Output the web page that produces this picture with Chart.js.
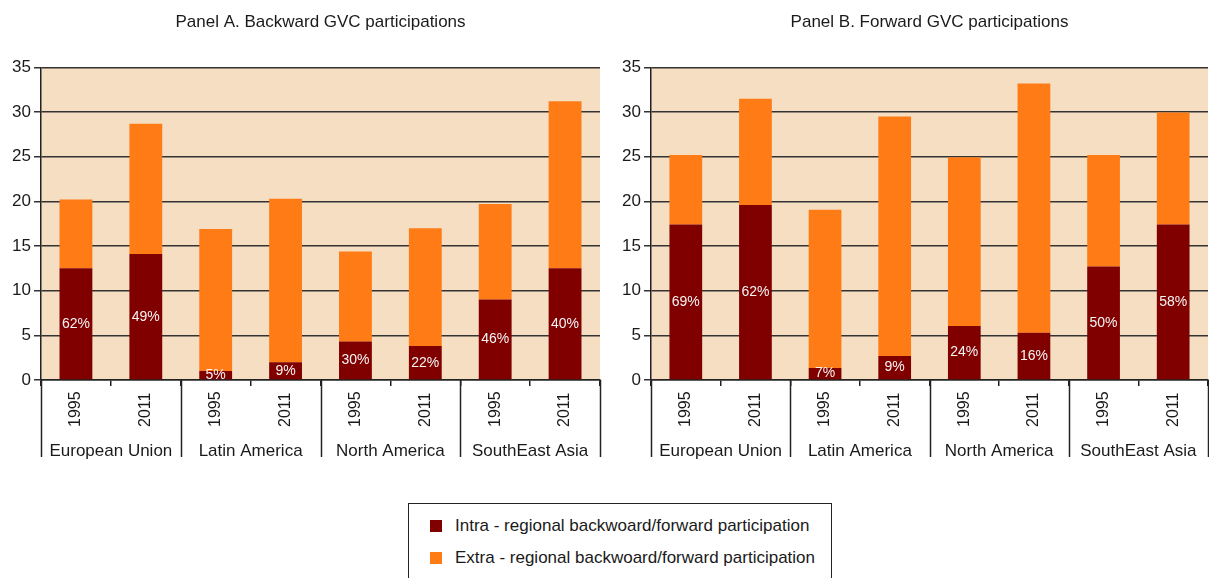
<!DOCTYPE html>
<html>
<head>
<meta charset="utf-8">
<script src="https://cdn.jsdelivr.net/npm/chart.js@4/dist/chart.umd.min.js"></script>
<style>
  body { margin: 0; background: #fff; overflow: hidden; font-family: "Liberation Sans", Arial, sans-serif; }
  #wrapA { position: absolute; left: 0; top: 0; width: 605px; height: 470px; }
  #wrapB { position: absolute; left: 605px; top: 0; width: 604px; height: 470px; }
  #leyenda { position: absolute; left: 408px; top: 503px; width: 424px; height: 84px; border: 1px solid #222; box-sizing: border-box; }
  .item { position: absolute; left: 21px; font-size: 17px; color: #1a1a1a; white-space: nowrap; }
  .item span { display: inline-block; width: 12px; height: 12px; margin-right: 13px; vertical-align: -1px; }
</style>
</head>
<body>
<div id="wrapA"><canvas id="panelA"></canvas></div>
<div id="wrapB"><canvas id="panelB"></canvas></div>
<div id="leyenda">
  <div class="item" style="top:12px"><span style="background:#800000"></span>Intra - regional backwoard/forward participation</div>
  <div class="item" style="top:44px"><span style="background:#ff7b16"></span>Extra - regional backwoard/forward participation</div>
</div>
<script>
const years = ["1995", "2011", "1995", "2011", "1995", "2011", "1995", "2011"];
const regions = ["European Union", "Latin America", "North America", "SouthEast Asia"];

const intraA = [12.5, 14.1, 1.0, 2.0, 4.3, 3.8, 9.0, 12.5];
const extraA = [7.7, 14.6, 15.9, 18.3, 10.1, 13.2, 10.7, 18.7];
const pctA = [62, 49, 5, 9, 30, 22, 46, 40];

const intraB = [17.4, 19.6, 1.35, 2.7, 6.05, 5.3, 12.7, 17.4];
const extraB = [7.8, 11.9, 17.7, 26.8, 18.9, 27.9, 12.5, 12.55];
const pctB = [69, 62, 7, 9, 24, 16, 50, 58];

const yTicks = [0, 5, 10, 15, 20, 25, 30, 35];

const fuente = "'Liberation Sans', Arial, sans-serif";
const colorTexto = "#1a1a1a";
Chart.defaults.font.family = fuente;
Chart.defaults.color = colorTexto;

// fondo del area del grafico, etiquetas de años y separadores de regiones
const decoracion = {
  id: "decoracion",
  beforeDraw(chart) {
    const { ctx, chartArea } = chart;
    ctx.save();
    ctx.fillStyle = "#f5dec2";
    ctx.fillRect(chartArea.left, chartArea.top, chartArea.right - chartArea.left, chartArea.bottom - chartArea.top);
    ctx.restore();
  },
  afterDraw(chart) {
    const { ctx, chartArea } = chart;
    const x = chart.scales.x;
    const x2 = chart.scales.x2;
    ctx.save();
    ctx.fillStyle = colorTexto;
    ctx.font = "16px " + fuente;
    ctx.textAlign = "left";
    ctx.textBaseline = "middle";
    years.forEach((anio, i) => {
      ctx.save();
      ctx.translate(x.getPixelForValue(i), x.top + 47);
      ctx.rotate(-Math.PI / 2);
      ctx.fillText(anio, 0, 0);
      ctx.restore();
    });
    ctx.strokeStyle = "#222";
    ctx.lineWidth = 1.5;
    const paso = (x.right - x.left) / years.length;
    for (let k = 0; k <= years.length; k += 2) {
      const px = Math.round(x.left + k * paso) + 0.5;
      ctx.beginPath();
      ctx.moveTo(px, chartArea.bottom);
      ctx.lineTo(px, x2.top + 19);
      ctx.stroke();
    }
    ctx.restore();
  }
};

const etiquetasPct = {
  id: "etiquetasPct",
  afterDatasetsDraw(chart, args, opts) {
    const { ctx } = chart;
    const meta = chart.getDatasetMeta(0);
    ctx.save();
    ctx.fillStyle = "#f4f4f4";
    ctx.font = "14px " + fuente;
    ctx.textAlign = "center";
    ctx.textBaseline = "middle";
    meta.data.forEach((bar, i) => {
      const p = bar.getProps(["x", "y", "base"], true);
      ctx.fillText(opts.valores[i] + "%", p.x, (p.y + p.base) / 2);
    });
    ctx.restore();
  }
};

function crearPanel(idCanvas, titulo, intra, extra, pct, anchoEje, derecha) {
  const config = {
    type: "bar",
    data: {
      labels: years,
      datasets: [
        { label: "Intra - regional backwoard/forward participation", data: intra, backgroundColor: "#800000" },
        { label: "Extra - regional backwoard/forward participation", data: extra, backgroundColor: "#ff7b16" }
      ]
    },
    options: {
      responsive: true,
      maintainAspectRatio: false,
      animation: false,
      categoryPercentage: 1,
      barPercentage: 0.47,
      layout: { padding: { left: 0, right: derecha, top: 0, bottom: 8 } },
      plugins: {
        legend: { display: false },
        tooltip: { enabled: false },
        title: {
          display: true,
          text: titulo,
          fullSize: false,
          color: colorTexto,
          font: { size: 17, weight: "normal" },
          padding: { top: 12, bottom: 35 }
        },
        etiquetasPct: { valores: pct }
      },
      scales: {
        x: {
          stacked: true,
          offset: true,
          weight: 0,
          ticks: { display: false },
          grid: { drawOnChartArea: false, tickLength: 6, color: "#222", lineWidth: 1.5, offset: true },
          border: { color: "#222", width: 1.5 },
          afterFit(scale) { scale.height = 58; }
        },
        x2: {
          type: "category",
          labels: regions,
          position: "bottom",
          offset: true,
          weight: 1,
          grid: { display: false, drawTicks: false },
          border: { display: false },
          ticks: { color: colorTexto, font: { size: 17 }, padding: 3, maxRotation: 0, autoSkip: false },
          afterFit(scale) { scale.height = 24; }
        },
        y: {
          stacked: true,
          min: 0,
          max: 35,
          afterBuildTicks(scale) { scale.ticks = yTicks.map((v) => ({ value: v })); },
          ticks: { color: colorTexto, font: { size: 17 }, padding: 3 },
          grid: { color: "#333", lineWidth: 1.5, tickLength: 7 },
          border: { color: "#222", width: 1.5 },
          afterFit(scale) { scale.width = anchoEje; }
        }
      }
    },
    plugins: [decoracion, etiquetasPct]
  };
  return new Chart(document.getElementById(idCanvas), config);
}

crearPanel("panelA", "Panel A. Backward GVC participations", intraA, extraA, pctA, 41, 5);
crearPanel("panelB", "Panel B. Forward GVC participations", intraB, extraB, pctB, 46, 1);
</script>
</body>
</html>
